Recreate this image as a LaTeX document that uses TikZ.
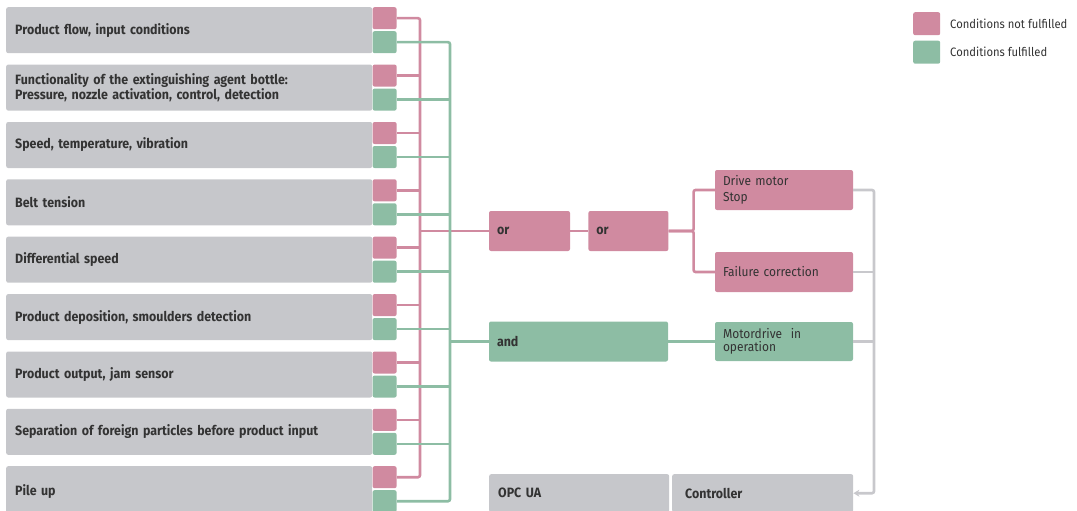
\documentclass[tikz,border=0pt]{standalone}
\usepackage{fontspec}
\setmainfont[FakeStretch=0.92]{Fira Sans}
\usetikzlibrary{arrows.meta,positioning}

\definecolor{condgray}{RGB}{198,199,203}
\definecolor{condpink}{RGB}{208,138,160}
\definecolor{condgreen}{RGB}{141,189,164}
\definecolor{linegray}{RGB}{200,200,204}
\definecolor{textdark}{RGB}{51,51,51}

\begin{document}
\begin{tikzpicture}[
    x=1pt, y=-1pt,
    cond/.style={fill=condgray, rounded corners=2pt, anchor=north west, minimum height=46pt, text width=348pt, inner xsep=9pt, inner ysep=0pt, align=left, text=textdark, font=\fontsize{13.5}{15}\selectfont\bfseries},
    nok/.style={fill=condpink, rounded corners=2pt, minimum width=24pt, minimum height=22pt, inner sep=0pt, anchor=north west},
    ok/.style={fill=condgreen, rounded corners=2pt, minimum width=24pt, minimum height=22pt, inner sep=0pt, anchor=north west},
    gate/.style={rounded corners=2pt, minimum height=40pt, inner xsep=8pt, inner ysep=0pt, text=textdark, font=\fontsize{13.5}{15}\selectfont\bfseries},
    result/.style={rounded corners=2pt, minimum height=40pt, text width=122pt, inner xsep=8pt, inner ysep=0pt, align=left, text=textdark, font=\fontsize{13}{16}\selectfont},
    sys/.style={fill=condgray, rounded corners=2pt, anchor=north west, minimum height=38pt, inner ysep=0pt, align=left, text=textdark, font=\fontsize{13.5}{15}\selectfont\bfseries},
    nokline/.style={draw=condpink, line width=2.6pt, rounded corners=2pt},
    okline/.style={draw=condgreen, line width=2.6pt, rounded corners=2pt},
    feedline/.style={draw=linegray, line width=2.6pt, rounded corners=2pt},
    legend/.style={rounded corners=2pt, minimum width=27pt, minimum height=23pt, inner sep=0pt, anchor=north west},
    legendtext/.style={anchor=west, inner sep=0pt, text=textdark, font=\fontsize{12.2}{14}\selectfont}
]
    \useasboundingbox (0,0) rectangle (1077,511);

    % Input conditions
    \node[cond] (r1) at (6,7) {Product flow, input conditions};
    \node[cond] (r2) at (6,64.4) {Functionality of the extinguishing agent bottle:\\Pressure, nozzle activation, control, detection};
    \node[cond] (r3) at (6,121.8) {Speed, temperature, vibration};
    \node[cond] (r4) at (6,179.1) {Belt tension};
    \node[cond] (r5) at (6,236.5) {Differential speed};
    \node[cond] (r6) at (6,293.9) {Product deposition, smoulders detection};
    \node[cond] (r7) at (6,351.3) {Product output, jam sensor};
    \node[cond] (r8) at (6,408.6) {Separation of foreign particles before product input};
    \node[cond, minimum height=50pt] (r9) at (6,466) {Pile up};

    % State flags
    \node[nok] (p1) at (r1.north east) {}; \node[ok] (g1) at ([yshift=-24pt]r1.north east) {};
    \node[nok] (p2) at (r2.north east) {}; \node[ok] (g2) at ([yshift=-24pt]r2.north east) {};
    \node[nok] (p3) at (r3.north east) {}; \node[ok] (g3) at ([yshift=-24pt]r3.north east) {};
    \node[nok] (p4) at (r4.north east) {}; \node[ok] (g4) at ([yshift=-24pt]r4.north east) {};
    \node[nok] (p5) at (r5.north east) {}; \node[ok] (g5) at ([yshift=-24pt]r5.north east) {};
    \node[nok] (p6) at (r6.north east) {}; \node[ok] (g6) at ([yshift=-24pt]r6.north east) {};
    \node[nok] (p7) at (r7.north east) {}; \node[ok] (g7) at ([yshift=-24pt]r7.north east) {};
    \node[nok] (p8) at (r8.north east) {}; \node[ok] (g8) at ([yshift=-24pt]r8.north east) {};
    \node[nok] (p9) at (r9.north east) {}; \node[ok] (g9) at ([yshift=-24pt]r9.north east) {};

    \coordinate (pbus) at (420,0);
    \coordinate (gbus) at (450,0);

    % Logic
    \node[gate, fill=condpink, minimum width=81pt, text width=65pt] (or1) at (529.5,231) {or};
    \node[gate, fill=condpink, minimum width=80pt, text width=64pt, right=18pt of or1] (or2) {or};
    \node[gate, fill=condgreen, minimum width=179pt, text width=163pt] (and) at (578.5,341.5) {and};

    % Outputs
    \node[result, fill=condpink] (stop) at (784,190) {Drive motor\\Stop};
    \node[result, fill=condpink] (fix) at (784,272) {Failure correction};
    \node[result, fill=condgreen, font=\fontsize{13}{13.3}\selectfont, minimum height=39pt] (run) at (784,341.5) {Motordrive\ \ in\\operation};

    % Control system
    \node[sys, text width=162pt, inner xsep=9pt] (opc) at (489,474) {OPC UA};
    \node[sys, text width=155pt, inner xsep=13pt] (ctrl) at (672,474) {Controller};
    \coordinate (fbus) at (874,0);

    % Legend
    \node[legend, fill=condpink] (lnok) at (913,12) {};
    \node[legend, fill=condgreen] (lok) at (913,40.5) {};
    \node[legendtext] (tnok) at (950,23.5) {Conditions not fulfilled};
    \node[legendtext] (tok) at (950,52) {Conditions fulfilled};

    % Not fulfilled paths
    \draw[nokline] (p1.east) -| (p9.east -| pbus) -- (p9.east);
    \draw[nokline] (p2.east) -- (p2.east -| pbus);
    \draw[nokline] (p3.east) -- (p3.east -| pbus);
    \draw[nokline] (p4.east) -- (p4.east -| pbus);
    \draw[nokline] (p5.east) -- (p5.east -| pbus);
    \draw[nokline] (p6.east) -- (p6.east -| pbus);
    \draw[nokline] (p7.east) -- (p7.east -| pbus);
    \draw[nokline] (p8.east) -- (p8.east -| pbus);
    \draw[nokline] (or1.west -| pbus) -- (or1.west);
    \draw[nokline] (or1) -- (or2);
    \draw[nokline] (or2.east) -- ++(25,0) |- (stop.west);
    \draw[nokline] (or2.east) -- ++(25,0) |- (fix.west);

    % Fulfilled paths
    \draw[okline] (g1.east) -| (g9.east -| gbus) -- (g9.east);
    \draw[okline] (g2.east) -- (g2.east -| gbus);
    \draw[okline] (g3.east) -- (g3.east -| gbus);
    \draw[okline] (g4.east) -- (g4.east -| gbus);
    \draw[okline] (g5.east) -- (g5.east -| gbus);
    \draw[okline] (g6.east) -- (g6.east -| gbus);
    \draw[okline] (g7.east) -- (g7.east -| gbus);
    \draw[okline] (g8.east) -- (g8.east -| gbus);
    \draw[okline] (and.west -| gbus) -- (and.west);
    \draw[okline] (and) -- (run);

    % Feedback to controller
    \draw[feedline, -{Stealth[length=6pt, width=7pt]}] (stop.east) -| (ctrl.east -| fbus) -- (ctrl.east);
    \draw[feedline] (fix.east) -- (fix.east -| fbus);
    \draw[feedline] (run.east) -- (run.east -| fbus);
\end{tikzpicture}
\end{document}
